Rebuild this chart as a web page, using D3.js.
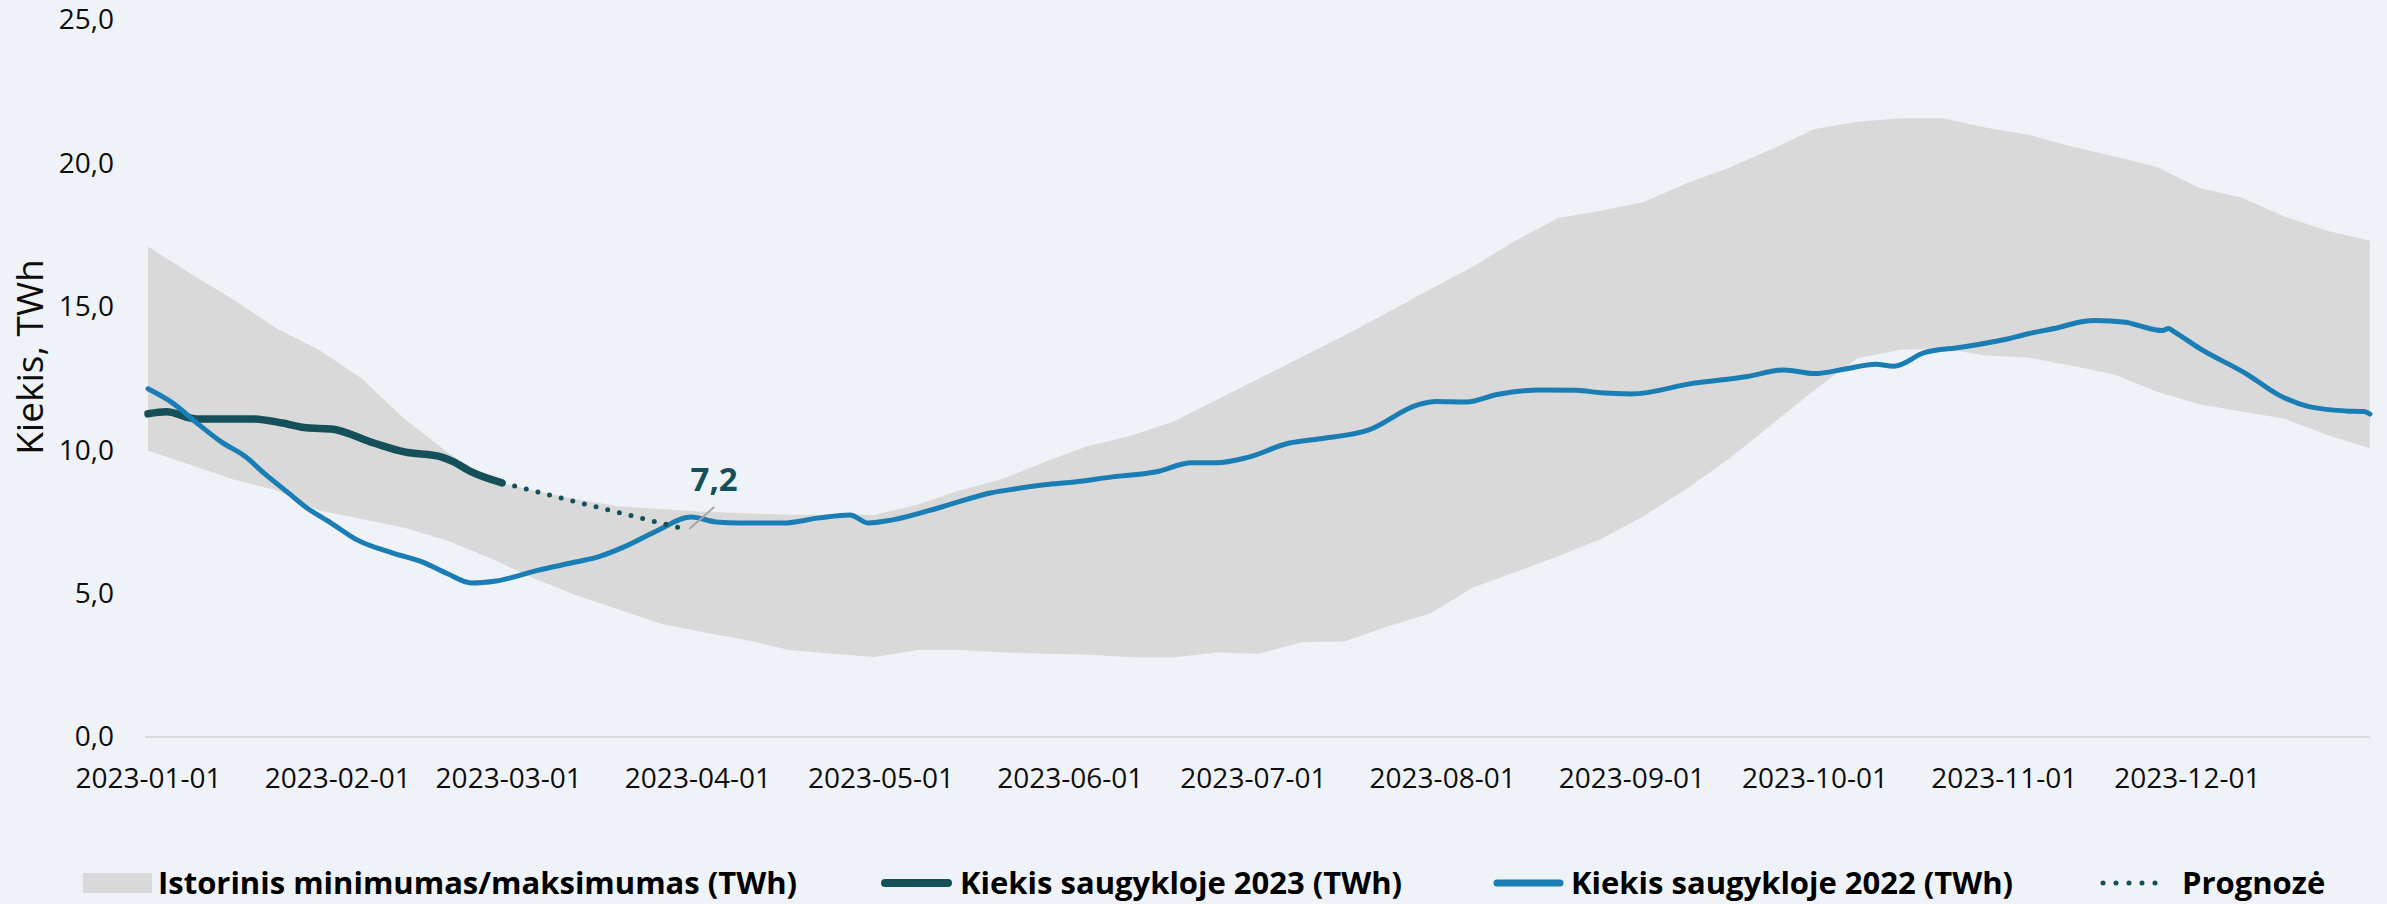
<!DOCTYPE html>
<html lang="lt">
<head>
<meta charset="utf-8">
<title>Kiekis saugykloje</title>
<script src="https://cdn.jsdelivr.net/npm/d3@7"></script>
<style>
  html, body { margin: 0; padding: 0; background: #eff3f7; }
  svg { display: block; font-family: 'Open Sans', sans-serif; }
</style>
</head>
<body>
<svg id="chart"></svg>
<script>
// Istorinis min/max koridorius (savaitiniai taškai)
const bandDates = [
  '2023-01-01', '2023-01-08', '2023-01-15', '2023-01-22', '2023-01-29', '2023-02-05', '2023-02-12',
  '2023-02-19', '2023-02-26', '2023-03-05', '2023-03-12', '2023-03-19', '2023-03-26', '2023-04-02',
  '2023-04-09', '2023-04-16', '2023-04-23', '2023-04-30', '2023-05-07', '2023-05-14', '2023-05-21',
  '2023-05-28', '2023-06-04', '2023-06-11', '2023-06-18', '2023-06-25', '2023-07-02', '2023-07-09',
  '2023-07-16', '2023-07-23', '2023-07-30', '2023-08-06', '2023-08-13', '2023-08-20', '2023-08-27',
  '2023-09-03', '2023-09-10', '2023-09-17', '2023-09-24', '2023-10-01', '2023-10-08', '2023-10-15',
  '2023-10-22', '2023-10-29', '2023-11-05', '2023-11-12', '2023-11-19', '2023-11-26', '2023-12-03',
  '2023-12-10', '2023-12-17', '2023-12-24', '2023-12-31'
];
const bandMax = [
  17.1, 16.15, 15.25, 14.25, 13.5, 12.5, 11.1,
  9.94, 8.95, 8.6, 8.3, 8.05, 7.95, 7.85,
  7.8, 7.75, 7.75, 7.74, 8.1, 8.6, 9.0,
  9.6, 10.15, 10.5, 11.0, 11.75, 12.5, 13.25,
  14.0, 14.8, 15.6, 16.4, 17.3, 18.1, 18.35,
  18.65, 19.3, 19.85, 20.5, 21.2, 21.45, 21.57,
  21.57, 21.25, 21.0, 20.6, 20.25, 19.88, 19.15,
  18.8, 18.15, 17.65, 17.3
];
const bandMin = [
  9.99, 9.48, 8.98, 8.6, 7.9, 7.6, 7.3,
  6.85, 6.24, 5.55, 4.95, 4.45, 3.95, 3.65,
  3.38, 3.03, 2.9, 2.79, 3.03, 3.03, 2.95,
  2.9, 2.87, 2.78, 2.77, 2.95, 2.9, 3.3,
  3.33, 3.85, 4.3, 5.2, 5.75, 6.3, 6.9,
  7.7, 8.65, 9.7, 10.9, 12.1, 13.2, 13.5,
  13.55, 13.3, 13.23, 12.95, 12.65, 12.05, 11.6,
  11.35, 11.1, 10.53, 10.07
];

// Kiekis saugykloje 2022 (atvaizduota 2023 m. ašyje)
const dates2022 = [
  '2023-01-01', '2023-01-05', '2023-01-09', '2023-01-13', '2023-01-17', '2023-01-20', '2023-01-24',
  '2023-01-27', '2023-01-31', '2023-02-04', '2023-02-10', '2023-02-15', '2023-02-19', '2023-02-23',
  '2023-02-27', '2023-03-06', '2023-03-12', '2023-03-16', '2023-03-20', '2023-03-25', '2023-03-31',
  '2023-04-04', '2023-04-08', '2023-04-15', '2023-04-21', '2023-04-26', '2023-04-29', '2023-05-03',
  '2023-05-11', '2023-05-19', '2023-05-23', '2023-05-29', '2023-06-01', '2023-06-08', '2023-06-15',
  '2023-06-21', '2023-06-25', '2023-06-30', '2023-07-07', '2023-07-12', '2023-07-20', '2023-07-28',
  '2023-07-31', '2023-08-05', '2023-08-10', '2023-08-17', '2023-08-23', '2023-08-27', '2023-09-01',
  '2023-09-11', '2023-09-20', '2023-09-26', '2023-10-01', '2023-10-06', '2023-10-11', '2023-10-14',
  '2023-10-19', '2023-10-25', '2023-11-01', '2023-11-05', '2023-11-10', '2023-11-14', '2023-11-16',
  '2023-11-21', '2023-11-23', '2023-11-27', '2023-11-28', '2023-11-29', '2023-12-03', '2023-12-11',
  '2023-12-16', '2023-12-21', '2023-12-27', '2023-12-30', '2023-12-31'
];
const values2022 = [
  12.14, 11.65, 10.95, 10.29, 9.77, 9.2, 8.51,
  7.99, 7.46, 6.9, 6.42, 6.1, 5.7, 5.37,
  5.44, 5.82, 6.1, 6.3, 6.63, 7.15, 7.67,
  7.5, 7.46, 7.46, 7.64, 7.74, 7.46, 7.57,
  8.02, 8.51, 8.65, 8.82, 8.87, 9.07, 9.24,
  9.56, 9.56, 9.74, 10.25, 10.4, 10.71, 11.58,
  11.7, 11.68, 11.94, 12.1, 12.09, 12.0, 11.96,
  12.33, 12.57, 12.8, 12.67, 12.83, 13.0, 12.93,
  13.4, 13.59, 13.85, 14.06, 14.28, 14.49, 14.52,
  14.46, 14.35, 14.17, 14.24, 14.12, 13.56, 12.63,
  11.93, 11.52, 11.37, 11.35, 11.26
];

// Kiekis saugykloje 2023
const dates2023 = [
  '2023-01-01', '2023-01-04', '2023-01-09', '2023-01-18', '2023-01-23', '2023-01-27', '2023-01-31',
  '2023-02-07', '2023-02-12', '2023-02-18', '2023-02-20', '2023-02-23', '2023-02-28'
];
const values2023 = [11.27, 11.34, 11.09, 11.09, 10.95, 10.78, 10.74, 10.25, 9.94, 9.77, 9.6, 9.24, 8.86];

// Prognozė
const forecastDates = ['2023-02-28', '2023-03-14', '2023-03-30'];
const forecastValues = [8.86, 8.1, 7.25];
const forecastLabel = '7,2';

const yTicks = [0, 5, 10, 15, 20, 25];
const yTitle = 'Kiekis, TWh';
const legendLabels = [
  'Istorinis minimumas/maksimumas (TWh)',
  'Kiekis saugykloje 2023 (TWh)',
  'Kiekis saugykloje 2022 (TWh)',
  'Prognozė'
];

class StorageChart {
  constructor(selector) {
    this.svg = d3.select(selector);
    this.width = 2387;
    this.height = 904;
    this.parse = d3.timeParse('%Y-%m-%d');
    this.colors = {
      bg: '#eff3f7',
      band: '#d9d9d9',
      y2023: '#15505a',
      y2022: '#1a7eb5',
      text: '#0d0d0d'
    };
    this.init();
  }

  init() {
    this.svg.attr('width', this.width).attr('height', this.height);
    this.svg.append('rect')
      .attr('width', this.width)
      .attr('height', this.height)
      .attr('fill', this.colors.bg);

    this.x = d3.scaleTime()
      .domain([this.parse('2023-01-01'), this.parse('2023-12-31')])
      .range([148, 2370]);
    this.y = d3.scaleLinear()
      .domain([0, 25])
      .range([737, 20]);

    this.drawAxes();
    this.drawSeries();
    this.drawAnnotation();
    this.drawLegend();
  }

  zip(dates, values) {
    return dates.map((d, i) => ({ date: this.parse(d), value: values[i] }));
  }

  drawAxes() {
    const locale = d3.formatLocale({ decimal: ',', thousands: ' ', grouping: [3], currency: ['', ' €'] });
    const fmt = locale.format('.1f');

    // Nulinė linija
    this.svg.append('line')
      .attr('x1', 145)
      .attr('x2', this.x.range()[1])
      .attr('y1', this.y(0))
      .attr('y2', this.y(0))
      .attr('stroke', '#d9d9d9')
      .attr('stroke-width', 2);

    const yAxis = this.svg.append('g')
      .attr('transform', `translate(${this.x.range()[0]},0)`)
      .call(d3.axisLeft(this.y).tickValues(yTicks).tickFormat(fmt).tickSize(0).tickPadding(34));
    yAxis.select('.domain').remove();
    yAxis.selectAll('text')
      .attr('font-family', 'Open Sans')
      .attr('font-size', 28)
      .attr('fill', this.colors.text);

    const xAxis = this.svg.append('g')
      .attr('transform', `translate(0,${this.y(0)})`)
      .call(d3.axisBottom(this.x)
        .ticks(d3.timeMonth.every(1))
        .tickFormat(d3.timeFormat('%Y-%m-%d'))
        .tickSize(0)
        .tickPadding(31));
    xAxis.select('.domain').remove();
    xAxis.selectAll('text')
      .attr('font-family', 'Open Sans')
      .attr('font-size', 28)
      .attr('fill', this.colors.text);

    this.svg.append('text')
      .attr('transform', 'translate(43,357) rotate(-90)')
      .attr('text-anchor', 'middle')
      .attr('font-size', 37)
      .attr('fill', this.colors.text)
      .text(yTitle);
  }

  drawSeries() {
    const band = bandDates.map((d, i) => ({ date: this.parse(d), hi: bandMax[i], lo: bandMin[i] }));

    const area = d3.area()
      .x(d => this.x(d.date))
      .y0(d => this.y(d.lo))
      .y1(d => this.y(d.hi));

    this.svg.append('path')
      .datum(band)
      .attr('d', area)
      .attr('fill', this.colors.band);

    const line = d3.line()
      .x(d => this.x(d.date))
      .y(d => this.y(d.value))
      .curve(d3.curveMonotoneX);

    this.svg.append('path')
      .datum(this.zip(dates2023, values2023))
      .attr('d', line)
      .attr('fill', 'none')
      .attr('stroke', this.colors.y2023)
      .attr('stroke-width', 7.5)
      .attr('stroke-linecap', 'round')
      .attr('stroke-linejoin', 'round');

    this.svg.append('path')
      .datum(this.zip(dates2022, values2022))
      .attr('d', line)
      .attr('fill', 'none')
      .attr('stroke', this.colors.y2022)
      .attr('stroke-width', 5)
      .attr('stroke-linecap', 'round')
      .attr('stroke-linejoin', 'round');

    // Taškinė prognozės linija
    this.svg.append('path')
      .datum(this.zip(forecastDates, forecastValues))
      .attr('d', line)
      .attr('fill', 'none')
      .attr('stroke', this.colors.y2023)
      .attr('stroke-width', 5)
      .attr('stroke-linecap', 'round')
      .attr('stroke-dasharray', '0 12')
      .attr('stroke-dashoffset', -13);
  }

  drawAnnotation() {
    const last = forecastDates.length - 1;
    const px = this.x(this.parse(forecastDates[last]));
    const py = this.y(forecastValues[last]);

    this.svg.append('line')
      .attr('x1', px + 4)
      .attr('y1', py)
      .attr('x2', px + 29)
      .attr('y2', py - 22)
      .attr('stroke', '#a6a6a6')
      .attr('stroke-width', 2);

    this.svg.append('text')
      .attr('x', px + 29)
      .attr('y', py - 38)
      .attr('text-anchor', 'middle')
      .attr('font-size', 33)
      .attr('font-weight', 'bold')
      .attr('fill', this.colors.y2023)
      .text(forecastLabel);
  }

  drawLegend() {
    const ly = 883;
    const legend = this.svg.append('g')
      .attr('class', 'legend')
      .attr('font-size', 31)
      .attr('font-weight', 'bold')
      .attr('fill', '#000');

    legend.append('rect')
      .attr('x', 83)
      .attr('y', ly - 10)
      .attr('width', 69)
      .attr('height', 20)
      .attr('fill', this.colors.band);

    legend.append('line')
      .attr('x1', 885).attr('x2', 948)
      .attr('y1', ly).attr('y2', ly)
      .attr('stroke', this.colors.y2023)
      .attr('stroke-width', 8)
      .attr('stroke-linecap', 'round');

    legend.append('line')
      .attr('x1', 1497).attr('x2', 1560)
      .attr('y1', ly).attr('y2', ly)
      .attr('stroke', this.colors.y2022)
      .attr('stroke-width', 7)
      .attr('stroke-linecap', 'round');

    legend.append('line')
      .attr('x1', 2103).attr('x2', 2168)
      .attr('y1', ly).attr('y2', ly)
      .attr('stroke', this.colors.y2023)
      .attr('stroke-width', 5)
      .attr('stroke-linecap', 'round')
      .attr('stroke-dasharray', '0 13');

    const textX = [158, 960, 1571, 2182];
    legendLabels.forEach((label, i) => {
      legend.append('text')
        .attr('x', textX[i])
        .attr('y', ly)
        .attr('dy', '0.37em')
        .text(label);
    });
  }
}

new StorageChart('#chart');
</script>
</body>
</html>
